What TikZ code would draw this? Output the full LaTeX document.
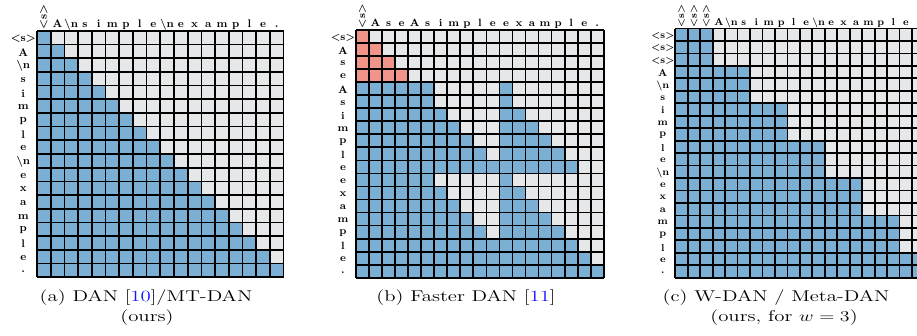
\documentclass[tikz,border=0pt]{standalone}
\usepackage{fontspec}
\usepackage{graphicx}
\definecolor{cblue}{HTML}{7BAFD4}
\definecolor{cgray}{HTML}{E5E7E9}
\definecolor{cred}{HTML}{F1948A}
\definecolor{citeblue}{HTML}{1515FF}
\tikzset{
  gridline/.style={draw=black, line width=1.4pt},
  labA/.style={inner sep=0pt, font=\fontsize{8.8}{9}\selectfont\bfseries},
  labB/.style={inner sep=0pt, font=\fontsize{8.4}{9}\selectfont\bfseries},
  labC/.style={inner sep=0pt, font=\fontsize{8.0}{9}\selectfont\bfseries},
  capt/.style={inner sep=0pt, anchor=base, font=\fontsize{12.5}{14}\selectfont},
}
\newcommand\capstretch[1]{\scalebox{1.33}[1]{#1}}
\begin{document}
\begin{tikzpicture}[x=0.8pt,y=-0.8pt]
\useasboundingbox (0,0) rectangle (917,335);
% ---------------- grid (a) ----------------
\def\xa{37}\def\ya{30.7}\def\ca{13.7}
\foreach \i in {0,...,17}{
  \foreach \j in {0,...,17}{
    \ifnum\j>\i \def\fc{cgray}\else\def\fc{cblue}\fi
    \path[fill=\fc] (\xa+\j*\ca,\ya+\i*\ca) rectangle ++(\ca,\ca);
  }
}
\foreach \k in {0,...,18}{
  \draw[gridline] (\xa+\k*\ca,\ya) -- ++(0,18*\ca);
  \draw[gridline] (\xa,\ya+\k*\ca) -- ++(18*\ca,0);
}
\node[labA, rotate=90, anchor=west] (ac0) at (\xa+0.5*\ca,\ya-1.4) {<s>};
\foreach \t [count=\k from 1] in {A,{\textbackslash n},s,i,m,p,l,e,{\textbackslash n},e,x,a,m,p,l,e,.}{
  \node[labA, anchor=base] (ac\k) at (\xa+\k*\ca+0.5*\ca,\ya-3.4) {\t};
}
\foreach \t [count=\k from 0] in {{<s>},A,{\textbackslash n},s,i,m,p,l,e,{\textbackslash n},e,x,a,m,p,l,e,.}{
  \node[labA] (ar\k) at (\xa-\ca,\ya+\k*\ca+0.5*\ca+1) {\t};
}
% ---------------- grid (b) ----------------
\def\xb{356}\def\yb{30}\def\cb{13.04}
\foreach \i in {0,...,3}{
  \foreach \j in {0,...,18}{
    \ifnum\j>\i \def\fc{cgray}\else\def\fc{cred}\fi
    \path[fill=\fc] (\xb+\j*\cb,\yb+\i*\cb) rectangle ++(\cb,\cb);
  }
}
\foreach \i/\lo/\hi in {4/5/11,5/5/11,6/6/12,7/7/13,8/8/14,9/9/15,10/16/0,11/5/11,12/6/12,13/7/13,14/8/14,15/9/15,16/16/0,17/17/0,18/18/0}{
  \foreach \j in {0,...,18}{
    \ifnum\j>\lo\relax
      \ifnum\j<11 \def\fc{cgray}\else
        \ifnum\j>\hi\relax \def\fc{cgray}\else\def\fc{cblue}\fi
      \fi
    \else\def\fc{cblue}\fi
    \path[fill=\fc] (\xb+\j*\cb,\yb+\i*\cb) rectangle ++(\cb,\cb);
  }
}
\foreach \k in {0,...,19}{
  \draw[gridline] (\xb+\k*\cb,\yb) -- ++(0,19*\cb);
  \draw[gridline] (\xb,\yb+\k*\cb) -- ++(19*\cb,0);
}
\node[labB, rotate=90, anchor=west] (bc0) at (\xb+0.5*\cb,\yb-1.4) {<s>};
\foreach \t [count=\k from 1] in {A,s,e,A,s,i,m,p,l,e,e,x,a,m,p,l,e,.}{
  \node[labB, anchor=base] (bc\k) at (\xb+\k*\cb+0.5*\cb,\yb-3.3) {\t};
}
\foreach \t [count=\k from 0] in {{<s>},A,s,e,A,s,i,m,p,l,e,e,x,a,m,p,l,e,.}{
  \node[labB] (br\k) at (\xb-\cb,\yb+\k*\cb+0.5*\cb+1) {\t};
}
% ---------------- grid (c) ----------------
\def\xc{675.3}\def\yc{28.5}\def\cc{12.46}
\foreach \i in {0,...,19}{
  \pgfmathtruncatemacro\lim{3*int(\i/3)+2}
  \foreach \j in {0,...,19}{
    \ifnum\j>\lim\relax \def\fc{cgray}\else\def\fc{cblue}\fi
    \path[fill=\fc] (\xc+\j*\cc,\yc+\i*\cc) rectangle ++(\cc,\cc);
  }
}
\foreach \k in {0,...,20}{
  \draw[gridline] (\xc+\k*\cc,\yc) -- ++(0,20*\cc);
  \draw[gridline] (\xc,\yc+\k*\cc) -- ++(20*\cc,0);
}
\foreach \k in {0,1,2}{
  \node[labC, rotate=90, anchor=west] (cc\k) at (\xc+\k*\cc+0.5*\cc,\yc-1.2) {<s>};
}
\foreach \t [count=\k from 3] in {A,{\textbackslash n},s,i,m,p,l,e,{\textbackslash n},e,x,a,m,p,l,e}{
  \node[labC, anchor=base] (cc\k) at (\xc+\k*\cc+0.5*\cc,\yc-2.8) {\t};
}
\foreach \t [count=\k from 0] in {{<s>},{<s>},{<s>},A,{\textbackslash n},s,i,m,p,l,e,{\textbackslash n},e,x,a,m,p,l,e,.}{
  \node[labC] (cr\k) at (\xc-\cc,\yc+\k*\cc+0.5*\cc+1) {\t};
}
% ---------------- captions ----------------
\node[capt] (capa1) at (146,301) {\capstretch{(a) DAN [{\color{citeblue}10}]/MT-DAN}};
\node[capt] (capa2) at (147,321) {\capstretch{(ours)}};
\node[capt] (capb1) at (466,301) {\capstretch{(b) Faster DAN [{\color{citeblue}11}]}};
\node[capt] (capc1) at (776,301) {\capstretch{(c) W-DAN / Meta-DAN}};
\node[capt] (capc2) at (784,321) {\capstretch{(ours, for $w=3$)}};
\end{tikzpicture}
\end{document}
